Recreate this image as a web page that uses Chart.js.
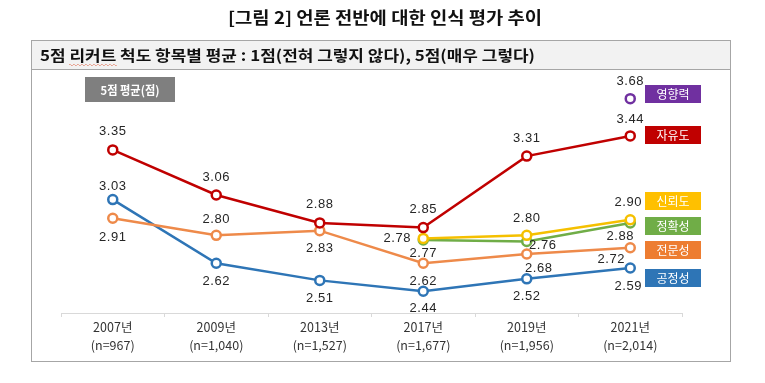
<!DOCTYPE html>
<html><head><meta charset="utf-8">
<script src="https://cdn.jsdelivr.net/npm/chart.js@4"></script>
<style>html,body{margin:0;padding:0;background:#fff}#wrap{width:765px;height:383px;position:relative}</style>
</head><body><div id="wrap"><canvas id="c"></canvas></div>
<script>
// ---- data ----
const categories = ['2007년','2009년','2013년','2017년','2019년','2021년'];
const sampleSizes = ['(n=967)','(n=1,040)','(n=1,527)','(n=1,677)','(n=1,956)','(n=2,014)'];
const seriesNames = ['영향력','자유도','신뢰도','정확성','전문성','공정성'];
const influence = [null,null,null,null,null,3.68];
const freedom   = [3.35,3.06,2.88,2.85,3.31,3.44];
const trust     = [null,null,null,2.78,2.80,2.90];
const accuracy  = [null,null,null,2.77,2.76,2.88];
const expertise = [2.91,2.80,2.83,2.62,2.68,2.72];
const fairness  = [3.03,2.62,2.51,2.44,2.52,2.59];
const titleText = '[그림 2] 언론 전반에 대한 인식 평가 추이';
const headerText = '5점 리커트 척도 항목별 평균 : 1점(전혀 그렇지 않다), 5점(매우 그렇다)';
const unitText = '5점 평균(점)';

// ---- styles ----
const colors = ['#7030a0','#c00000','#f5c000','#70ad47','#ee8a4a','#2e75b6'];
const boxColors = ['#7030a0','#c00000','#ffc000','#70ad47','#ed7d31','#2e75b6'];
const legendTops = [85,126,192,217,241,269];
// label offsets [dx,dy] per series / point
const labelOffsets = [
  [null,null,null,null,null,[0,-17]],
  [[0,-18],[0,-18],[0,-18],[0,-18],[0,-18],[0,-16]],
  [null,null,null,[-26,0],[0,-17],[-2,-17]],
  [null,null,null,[0,13],[16,4],[-10,14]],
  [[0,19],[0,-16],[0,18],[0,18],[12,14],[-19,12]],
  [[0,-13],[0,18],[0,18],[0,17],[0,18],[-2,18]]
];
const seriesData = [influence,freedom,trust,accuracy,expertise,fairness];

function fitText(ctx, text, x, y, w, font, align){
  ctx.font = font;
  const m = ctx.measureText(text).width;
  const s = w / m;
  ctx.save();
  ctx.translate(x, y);
  ctx.scale(s, 1);
  ctx.textAlign = align;
  ctx.fillText(text, 0, 0);
  ctx.restore();
  return s;
}

const decor = {
  id: 'decor',
  beforeDraw(chart){
    const ctx = chart.ctx;
    ctx.save();
    ctx.fillStyle = '#fff';
    ctx.fillRect(0,0,chart.width,chart.height);
    // title
    ctx.fillStyle = '#111';
    ctx.textBaseline = 'middle';
    fitText(ctx, titleText, 385, 18, 314, 'bold 17px "Noto Sans CJK KR"', 'center');
    // outer box
    ctx.fillStyle = '#f2f2f2';
    ctx.fillRect(31, 40, 700, 29);
    ctx.strokeStyle = '#a6a6a6';
    ctx.lineWidth = 1;
    ctx.strokeRect(31.5, 40.5, 699, 321);
    ctx.beginPath(); ctx.moveTo(31, 69.5); ctx.lineTo(731, 69.5); ctx.stroke();
    // header text
    ctx.fillStyle = '#111';
    const font = 'bold 15px "Noto Sans CJK KR"';
    const s = fitText(ctx, headerText, 40, 55, 495, font, 'left');
    // spell squiggle under 리커트
    ctx.font = font;
    const x0 = 40 + ctx.measureText('5점 ').width * s;
    const w0 = ctx.measureText('리커트').width * s;
    ctx.fillStyle = '#e06040';
    for (let x = x0; x < x0 + w0; x += 2) ctx.fillRect(x, 64 + ((Math.round((x-x0)/2))%2), 1, 1);
    // unit tag
    ctx.fillStyle = '#7f7f7f';
    ctx.fillRect(85, 77, 90, 25);
    ctx.fillStyle = '#fff';
    fitText(ctx, unitText, 130, 90, 59, 'bold 12px "Noto Sans CJK KR"', 'center');
    // legend boxes
    seriesNames.forEach((n,i)=>{
      ctx.fillStyle = boxColors[i];
      ctx.fillRect(645, legendTops[i], 56, 18);
      ctx.fillStyle = '#fff';
      ctx.font = '12px "Noto Sans CJK KR"';
      ctx.textAlign = 'center';
      ctx.fillText(n, 673, legendTops[i] + 9.5);
    });
    ctx.restore();
  },
  afterDatasetsDraw(chart){
    const ctx = chart.ctx;
    ctx.save();
    ctx.fillStyle = '#262626';
    ctx.font = '13px "Liberation Sans", Arial';
    ctx.letterSpacing = '0.6px';
    ctx.textAlign = 'center';
    ctx.textBaseline = 'middle';
    chart.data.datasets.forEach((ds, di)=>{
      const meta = chart.getDatasetMeta(di);
      ds.data.forEach((v, i)=>{
        if (v == null) return;
        const off = labelOffsets[di][i];
        const p = meta.data[i];
        ctx.fillText(v.toFixed(2), p.x + off[0], p.y + off[1]);
      });
    });
    ctx.restore();
  }
};

new Chart(document.getElementById('c'), {
  type: 'line',
  data: {
    labels: categories.map((c,i)=>[c, sampleSizes[i]]),
    datasets: seriesNames.map((n,i)=>({
      label: n,
      data: seriesData[i],
      borderColor: colors[i],
      backgroundColor: '#fff',
      pointBackgroundColor: '#fff',
      pointBorderColor: colors[i],
      borderWidth: 2.5,
      pointBorderWidth: 2.5,
      pointRadius: 4.5,
      tension: 0,
      spanGaps: false
    }))
  },
  options: {
    responsive: true,
    maintainAspectRatio: false,
    animation: false,
    layout: { padding: { left: 61, right: 83, top: 80, bottom: 0 } },
    plugins: { legend: { display: false }, tooltip: { enabled: false }, title: { display: false } },
    scales: {
      y: { display: false, min: 2.3, max: 3.8 },
      x: {
        offset: true,
        grid: { offset: true, drawOnChartArea: false, drawTicks: true, tickLength: 4, color: '#d9d9d9' },
        border: { color: '#d9d9d9' },
        ticks: { color: '#333', padding: 1, font: { family: '"Noto Sans CJK KR"', size: 12.5, lineHeight: 1.45 } },
        afterFit(scale){ scale.height = 70; }
      }
    }
  },
  plugins: [decor]
});
</script></body></html>
